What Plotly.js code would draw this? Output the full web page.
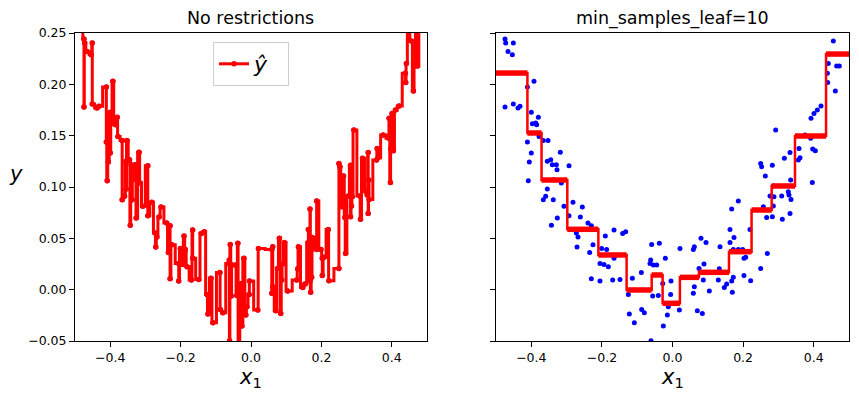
<!DOCTYPE html>
<html>
<head>
<meta charset="utf-8">
<script src="https://cdn.plot.ly/plotly-3.0.1.min.js"></script>
<style>html,body{margin:0;padding:0;background:#fff;}#chart{width:859px;height:399px;}</style>
</head>
<body>
<div id="chart"></div>
<script>
// Training samples (x1, y)
const xData = [-0.4745,-0.4726,-0.4509,-0.466,-0.4537,-0.3924,-0.411,-0.4745,-0.4509,-0.4377,-0.432,-0.400,-0.380,-0.3876,-0.397,-0.3848,-0.378,-0.411,-0.366,-0.3527,-0.400,-0.4056,-0.3547,-0.345,-0.3405,-0.4085,-0.3547,-0.3593,-0.366,-0.3377,-0.343,
-0.3178,-0.3291,-0.2932,-0.3272,-0.3366,-0.3149,-0.3074,-0.2819,-0.2554,-0.3263,-0.2611,-0.2932,-0.2394,-0.2299,-0.2724,-0.2677,-0.2705,-0.2252,-0.2347,-0.2299,
-0.1903,-0.1657,-0.1412,-0.1327,-0.2007,-0.1865,-0.2054,-0.194,-0.1818,-0.1657,-0.2054,-0.1695,-0.1487,-0.1223,-0.1081,-0.0873,-0.0798,-0.1138,-0.1251,-0.0883,-0.059,-0.0373,-0.0618,-0.0637,-0.0543,-0.0448,-0.0203,-0.0278,-0.0562,-0.0401,-0.0042,-0.0052,-0.0118,-0.0146,-0.026,-0.0609,-0.036,
0.0212,0.0194,0.059,0.0618,0.0807,0.0949,0.0751,0.0892,0.0873,0.0618,0.059,0.0703,0.0845,0.1043,0.1346,0.1327,0.1298,0.1468,
0.1742,0.1629,0.1723,0.1865,0.1988,0.2025,0.2073,0.2686,0.2498,0.2025,0.2214,0.1723,0.1676,0.1534,0.1695,
0.4556,0.4414,0.4651,0.4726,0.4386,0.4396,0.4613,0.4207,0.4103,0.4008,0.3924,0.2923,0.3754,0.3914,0.3584,0.3971,0.4046,0.3329,0.3612,0.3565,0.3168,0.2498,0.2526,0.2828,0.263,0.3347,0.3961,0.2856,0.3281,0.33,0.2762,0.2875,0.3093,0.3357,0.2856,0.2573,0.1865,0.1676,0.3329,0.2668,0.2828,0.3111,0.1629,0.2195,
-0.496,-0.481,0.447,0.469,0.481];
const yData = [0.2442,0.2403,0.2403,0.2321,0.2289,0.2029,0.1974,0.1779,0.1808,0.1769,0.1786,0.1727,0.1679,0.1623,0.1617,0.1607,0.1493,0.1438,0.1454,0.1454,0.1331,0.1243,0.125,0.1266,0.1217,0.1062,0.098,0.0909,0.0876,0.0876,0.0627,
0.1338,0.1217,0.1208,0.1169,0.1071,0.1039,0.0812,0.0851,0.0805,0.0698,0.0708,0.0721,0.0649,0.0623,0.0552,0.0513,0.0415,0.0438,0.0363,0.0107,
0.0522,0.0581,0.0548,0.0564,0.0402,0.0392,0.0256,0.0246,0.0224,0.0305,0.0084,0.0094,0.0100,-0.0238,-0.0322,-0.0192,-0.0225,0.011,-0.0046,0.0168,0.0441,0.0451,0.0288,0.0256,0.024,0.024,0.0305,0.0061,-0.0062,-0.0056,0.0084,-0.0046,-0.0166,-0.0247,-0.0354,-0.0497,-0.055,
0.0402,-0.0199,0.0392,0.0418,0.05,0.046,0.0207,0.0249,0.0094,0.0029,-0.0036,-0.0205,-0.0231,-0.0013,0.0418,0.0204,0.0094,0.002,
0.0509,0.046,0.0392,0.0392,0.0392,0.0305,0.0315,0.0353,0.0207,0.0139,0.0087,0.012,0.0084,0.0055,-0.0026,
0.2422,0.2204,0.2178,0.2178,0.2107,0.2019,0.1935,0.1789,0.175,0.1717,0.1669,0.1555,0.1506,0.1474,0.1376,0.137,0.1354,0.1337,0.1285,0.1263,0.1279,0.123,0.1198,0.1211,0.1107,0.1068,0.1045,0.1009,0.0954,0.0922,0.0912,0.0905,0.0912,0.0879,0.0815,0.0808,0.0863,0.0785,0.0743,0.0704,0.0711,0.0685,0.0587,0.0587,
0.262,0.255,0.262,0.258,0.266];

// min_samples_leaf=10 tree: split thresholds and leaf values
const splitX = [-0.411,-0.371,-0.298,-0.210,-0.130,-0.059,-0.028,0.021,0.075,0.160,0.224,0.281,0.347,0.435];
const leafY = [0.211,0.1526,0.1068,0.0588,0.0338,-0.0003,0.0143,-0.0133,0.012,0.0169,0.037,0.0776,0.101,0.1497,0.2295];

const xRange = [-0.5, 0.5];
const yRange = [-0.05, 0.25];
const xTicks = [-0.4,-0.2,0.0,0.2,0.4];
const yTicks = [-0.05,0.0,0.05,0.10,0.15,0.20,0.25];

// unrestricted tree: step through every sample (split at midpoints)
const order = xData.map((v,i)=>i).sort((a,b)=>xData[a]-xData[b]);
const sx = order.map(i=>xData[i]);
const sy = order.map(i=>yData[i]);
const fullX = [xRange[0]].concat(sx, [xRange[1]]);
const fullY = [sy[0]].concat(sy, [sy[sy.length-1]]);

// regularised tree step line
const edges = [xRange[0]].concat(splitX, [xRange[1]]);
const stepY = leafY.concat([leafY[leafY.length-1]]);
const hx = [], hy = [];
for (let i = 0; i < leafY.length; i++) { hx.push(edges[i], edges[i+1], null); hy.push(leafY[i], leafY[i], null); }

const F = "DejaVu Sans, Arial, sans-serif";
const traces = [
  {x: xData, y: yData, mode: 'markers', type: 'scatter', marker: {color: '#0000ff', size: 5}, showlegend: false, xaxis: 'x', yaxis: 'y', hoverinfo: 'skip'},
  {x: fullX, y: fullY, mode: 'lines+markers', type: 'scatter', line: {color: '#ff0000', width: 3, shape: 'hvh'}, marker: {color: '#ff0000', size: 5.5}, name: '<i>ŷ</i>  ', showlegend: true, xaxis: 'x', yaxis: 'y'},
  {x: xData, y: yData, mode: 'markers', type: 'scatter', marker: {color: '#0000ff', size: 5}, showlegend: false, xaxis: 'x2', yaxis: 'y2'},
  {x: edges, y: stepY, mode: 'lines', type: 'scatter', line: {color: '#ff0000', width: 2.5, shape: 'hv'}, showlegend: false, xaxis: 'x2', yaxis: 'y2'},
  {x: hx, y: hy, mode: 'lines', type: 'scatter', line: {color: '#ff0000', width: 5.5}, connectgaps: false, showlegend: false, xaxis: 'x2', yaxis: 'y2'}
];

const axX = (dom, anchor) => ({domain: dom, anchor: anchor, range: xRange, tickvals: xTicks, tickformat: '.1f', showgrid: false, zeroline: false, showline: true, mirror: true, linecolor: '#000', linewidth: 1, ticks: 'outside', ticklen: 5, tickcolor: '#000', tickfont: {family: F, size: 12.5, color: '#000'}});
const axY = (anchor, labels) => ({domain: [58/399, 366/399], anchor: anchor, range: yRange, tickvals: yTicks, tickformat: '.2f', showticklabels: labels, showgrid: false, zeroline: false, showline: true, mirror: true, linecolor: '#000', linewidth: 1, ticks: 'outside', ticklen: 5, tickcolor: '#000', tickfont: {family: F, size: 12.5, color: '#000'}});

const layout = {
  width: 859, height: 399,
  margin: {l: 0, r: 0, t: 0, b: 0},
  paper_bgcolor: '#fff', plot_bgcolor: '#fff',
  font: {family: F, color: '#000'},
  xaxis: axX([75/859, 427/859], 'y'),
  yaxis: axY('x', true),
  xaxis2: axX([496/859, 849/859], 'y2'),
  yaxis2: axY('x2', false),
  showlegend: true,
  legend: {x: 251/859, y: 1 - 42/399, xanchor: 'center', yanchor: 'top', bgcolor: '#fff', bordercolor: '#cccccc', borderwidth: 1, font: {family: F, size: 22, color: '#000'}},
  annotations: [
    {text: 'No restrictions', x: 251/859, y: 1 - 18/399, xref: 'paper', yref: 'paper', showarrow: false, font: {family: F, size: 17.5}, xanchor: 'center', yanchor: 'middle'},
    {text: 'min_samples_leaf=10', x: 672/859, y: 1 - 18/399, xref: 'paper', yref: 'paper', showarrow: false, font: {family: F, size: 17.5}, xanchor: 'center', yanchor: 'middle'},
    {text: '<i>x</i><sub>1</sub>', x: 251/859, y: 1 - 378/399, xref: 'paper', yref: 'paper', showarrow: false, font: {family: F, size: 21}, xanchor: 'center', yanchor: 'middle'},
    {text: '<i>x</i><sub>1</sub>', x: 672/859, y: 1 - 378/399, xref: 'paper', yref: 'paper', showarrow: false, font: {family: F, size: 21}, xanchor: 'center', yanchor: 'middle'},
    {text: '<i>y</i>', x: 16/859, y: 1 - 174/399, xref: 'paper', yref: 'paper', showarrow: false, font: {family: F, size: 21}, xanchor: 'center', yanchor: 'middle'}
  ]
};

Plotly.newPlot('chart', traces, layout, {displayModeBar: false, staticPlot: true});
</script>
</body>
</html>
